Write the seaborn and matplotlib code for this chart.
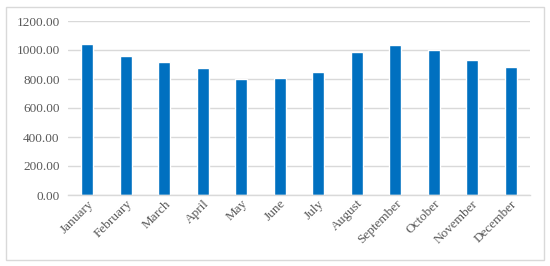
import matplotlib
matplotlib.use("Agg")
import matplotlib.pyplot as plt
import seaborn as sns
import pandas as pd
from matplotlib.patches import FancyBboxPatch

months = ["January", "February", "March", "April", "May", "June", "July",
          "August", "September", "October", "November", "December"]
values = [1039, 959, 915, 876, 802, 809, 848, 984, 1032, 998, 929, 885]
yticks = [0, 200, 400, 600, 800, 1000, 1200]

df = pd.DataFrame({"month": months, "value": values})

sns.set_theme(style="white")
plt.rcParams['font.family'] = ['Liberation Serif', 'DejaVu Serif']

fig = plt.figure(figsize=(5.5, 2.66), dpi=100)
# outer border
fig.patches.append(FancyBboxPatch((6/550, 6/266), 538/550, 253/266,
                                  boxstyle="square,pad=0", transform=fig.transFigure,
                                  fill=False, edgecolor="#D9D9D9", linewidth=1.0))
ax = fig.add_axes([68/550, 1-195/266, (530-68)/550, (195-21)/266])

sns.barplot(data=df, x="month", y="value", color="#0070C0", width=0.32,
            saturation=1, ax=ax)

ax.set_ylim(0, 1200)
ax.set_xlim(-0.5, 11.5)
ax.set_yticks(yticks)
ax.set_yticklabels([f"{v:.2f}" for v in yticks])
ax.yaxis.grid(True, color="#D9D9D9", linewidth=1.0)
ax.set_axisbelow(True)
for s in ["top", "right", "left"]:
    ax.spines[s].set_visible(False)
ax.spines["bottom"].set_color("#D9D9D9")
ax.spines["bottom"].set_linewidth(1.0)
ax.set_xlabel("")
ax.set_ylabel("")
ax.tick_params(axis="y", length=0, labelsize=9.5, labelcolor="#595959", pad=6)
ax.tick_params(axis="x", length=0, labelsize=9.5, labelcolor="#595959", pad=2)
plt.setp(ax.get_xticklabels(), rotation=45, ha="right", rotation_mode="anchor")

fig.savefig("out.png", dpi=100)
